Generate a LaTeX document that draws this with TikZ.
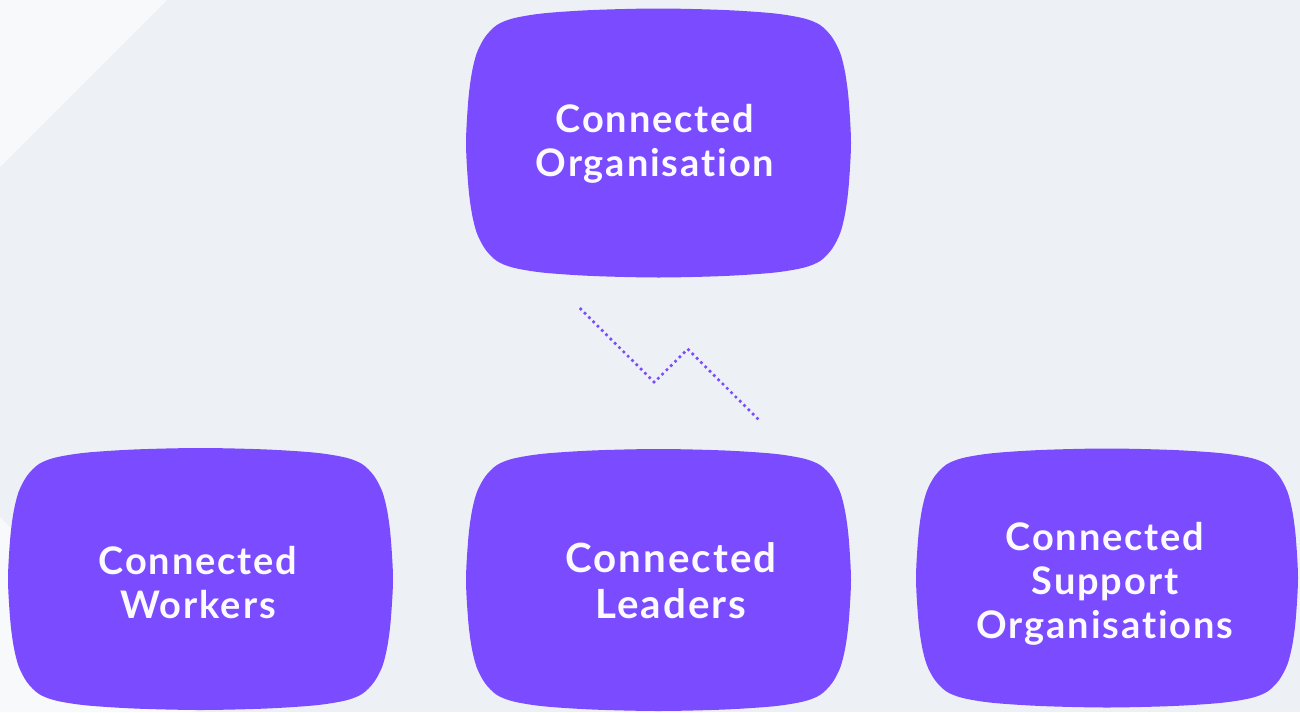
\documentclass[tikz,border=0pt]{standalone}
\usepackage{fontspec}
\setmainfont{Lato}[LetterSpace=5, Ligatures={NoCommon}]
\definecolor{bgmain}{HTML}{EDF1F6}
\definecolor{bglight}{HTML}{F7F9FB}
\definecolor{blobfill}{HTML}{7B4CFF}
\definecolor{dotline}{HTML}{7B4CFF}
\definecolor{blobtext}{HTML}{FBFAFF}
\newcommand\drawblob[4]{%
  \begin{scope}[shift={(#1,#2)},xscale=#3,yscale=#4]
    \fill[blobfill] plot[smooth cycle, tension=0.5] coordinates {
      (1,0) (0.988,0.32) (0.970,0.52) (0.944,0.669) (0.901,0.788) (0.840,0.877) (0.754,0.927) (0.598,0.964) (0.339,0.989)
      (0,1)
      (-0.339,0.989) (-0.598,0.964) (-0.754,0.927) (-0.840,0.877) (-0.901,0.788) (-0.944,0.669) (-0.970,0.52) (-0.988,0.32)
      (-1,0)
      (-0.988,-0.32) (-0.970,-0.52) (-0.944,-0.669) (-0.901,-0.788) (-0.840,-0.877) (-0.754,-0.927) (-0.598,-0.964) (-0.339,-0.989)
      (0,-1)
      (0.339,-0.989) (0.598,-0.964) (0.754,-0.927) (0.840,-0.877) (0.901,-0.788) (0.944,-0.669) (0.970,-0.52) (0.988,-0.32)
    };
  \end{scope}}
\tikzset{
  blobtxt/.style={text=blobtext, align=center, inner sep=0pt,
    font=\fontsize{10.8}{12.5}\selectfont\bfseries},
  bigtxt/.style={blobtxt, font=\fontsize{11.45}{13.1}\selectfont\bfseries},
  zigzag/.style={draw=dotline, line width=1.05pt, line cap=round,
    dash pattern=on 0pt off 1.73pt}
}
\begin{document}
\begin{tikzpicture}[x=0.01cm,y=-0.01cm]
  \useasboundingbox (0,0) rectangle (1300,712);
  \fill[bgmain] (0,0) rectangle (1300,712);
  \fill[bglight] (0,0) -- (167,0) -- (0,167) -- cycle;
  \fill[bglight] (0,517) -- (195,712) -- (0,712) -- cycle;

  \drawblob{658.5}{143}{192.5}{134.5}
  \drawblob{200.5}{579}{192.5}{131}
  \drawblob{658.5}{580}{192.5}{131}
  \drawblob{1107}{578}{191}{129.5}

  \node[blobtxt] (org) at (655,144) {Connected\\Organisation};
  \node[blobtxt] (workers) at (198,583) {Connected\\Workers};
  \node[bigtxt] (leaders) at (671,581) {Connected\\Leaders};
  \node[blobtxt] (support) at (1105,584) {Connected\\Support\\Organisations};

  \coordinate (z1) at (580.7,309);
  \coordinate (z2) at (654.3,382.3);
  \coordinate (z3) at (687.7,349);
  \coordinate (z4) at (761,422);
  \draw[zigzag] (z1) -- (z2) -- (z3) -- (z4);
\end{tikzpicture}
\end{document}
